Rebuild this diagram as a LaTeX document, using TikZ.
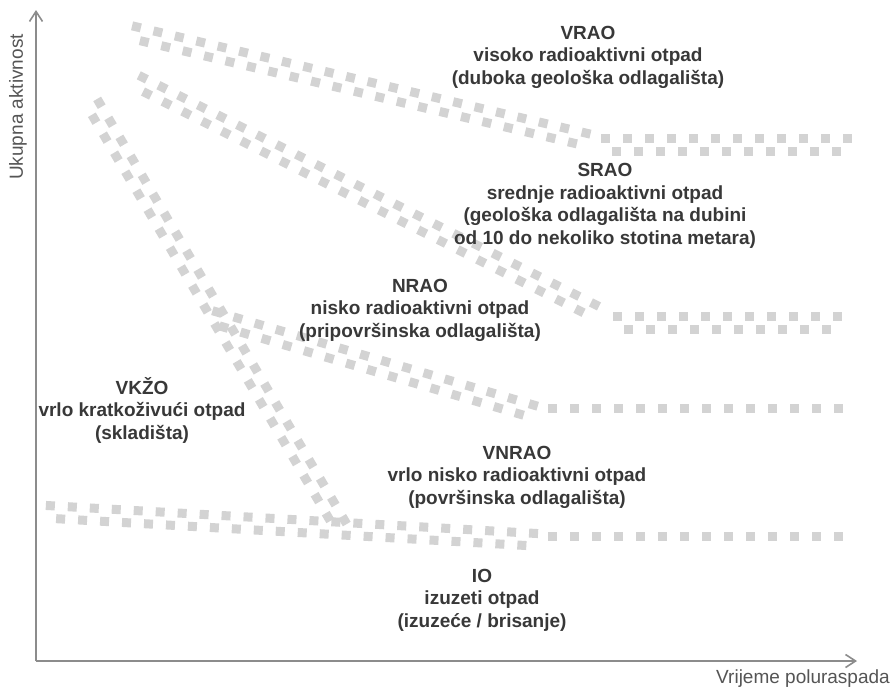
\documentclass[tikz,border=0pt]{standalone}
\usepackage{fontspec}
\setmainfont{Liberation Sans}
\usetikzlibrary{arrows.meta,decorations.markings}
\definecolor{bandgray}{HTML}{D3D3D3}
\definecolor{axisgray}{HTML}{8C8C8C}
\definecolor{txtgray}{HTML}{383838}
\definecolor{labgray}{HTML}{555555}
\tikzset{
  band/.style={postaction={decorate},decoration={markings,
    mark=between positions 0 and 1 step 22pt with {\fill[bandgray] (-4.5pt,1.8pt) rectangle (4.5pt,10.8pt);},
    mark=between positions 11pt and 1 step 22pt with {\fill[bandgray] (-4.5pt,-10.8pt) rectangle (4.5pt,-1.8pt);}}},
  region/.style={align=center, text=txtgray, inner sep=0pt,
    font=\fontsize{19}{22.5}\selectfont\bfseries},
  axislabel/.style={text=labgray, inner sep=0pt, font=\fontsize{19}{22}\selectfont},
  axisline/.style={draw=axisgray, line width=2pt, -{Straight Barb[length=10pt,width=13pt,line width=1.6pt]}}
}
\begin{document}
\begin{tikzpicture}[x=1pt,y=-1pt]
\useasboundingbox (0,0) rectangle (892,689);
\fill[white] (0,0) rectangle (892,689);
% band coordinates
\coordinate (b1s) at (135,33);  \coordinate (b1k) at (592,141);
\coordinate (b1f) at (605,145); \coordinate (b1e) at (852,145);
\coordinate (b2s) at (140,83);  \coordinate (b2k) at (598,313);
\coordinate (b2f) at (617,323); \coordinate (b2e) at (838,323);
\coordinate (b3s) at (215,318); \coordinate (b3k) at (535,412);
\coordinate (b3f) at (552,415); \coordinate (b3e) at (838,415);
\coordinate (b4s) at (50,512);  \coordinate (b4k) at (540,540);
\coordinate (b4f) at (552,543); \coordinate (b4e) at (838,543);
\coordinate (b5s) at (94,106);  \coordinate (b5e) at (340,525);
\path[band] (b1s) -- (b1k);
\path[band] (b1f) -- (b1e);
\path[band] (b2s) -- (b2k);
\path[band] (b2f) -- (b2e);
\path[band] (b3s) -- (b3k);
\path[band] (b3f) -- (b3e);
\path[band] (b4s) -- (b4k);
\path[band] (b4f) -- (b4e);
\path[band] (b5s) -- (b5e);
% axes
\coordinate (origin) at (36,661);
\coordinate (ytip) at (36,10);
\coordinate (xtip) at (857,661);
\draw[axisline] (origin) -- (ytip);
\draw[axisline] (origin) -- (xtip);
\node[axislabel, rotate=90] (ylab) at (18,107) {Ukupna aktivnost};
\node[axislabel, anchor=east] (xlab) at (890,679) {Vrijeme poluraspada};
% region labels
\node[region] (vrao) at (588,57) {VRAO\\visoko radioaktivni otpad\\(duboka geološka odlagališta)};
\node[region] (srao) at (605,206) {SRAO\\srednje radioaktivni otpad\\(geološka odlagališta na dubini\\od 10 do nekoliko stotina metara)};
\node[region] (nrao) at (420,310) {NRAO\\nisko radioaktivni otpad\\(pripovršinska odlagališta)};
\node[region] (vkzo) at (142,410) {VKŽO\\vrlo kratkoživući otpad\\(skladišta)};
\node[region] (vnrao) at (517,477) {VNRAO\\vrlo nisko radioaktivni otpad\\(površinska odlagališta)};
\node[region] (io) at (482,600) {IO\\izuzeti otpad\\(izuzeće / brisanje)};
\end{tikzpicture}
\end{document}
